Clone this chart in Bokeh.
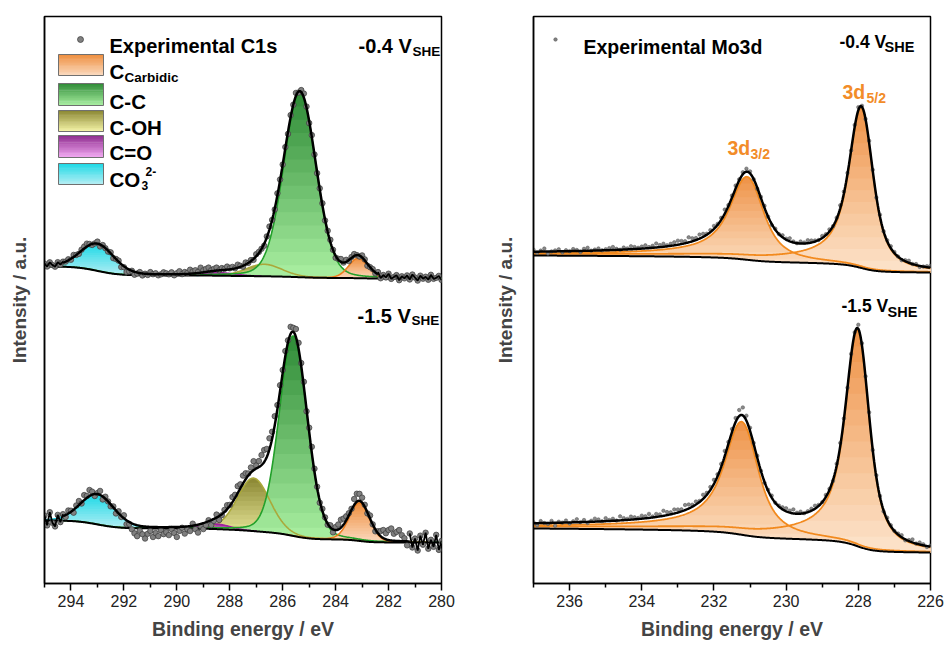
import numpy as np
from bokeh.plotting import figure
from bokeh.layouts import row
from bokeh.models import Range1d, FixedTicker, Label
from bokeh.embed import file_html
from bokeh.resources import INLINE

FONT = "Liberation Sans"

# ---------------------------------------------------------------- data
# measured energy grids (eV), high binding energy first
c1s_energy = np.linspace(295.0, 280.0, 151)
mo_energy = np.linspace(237.0, 226.0, 111)

# C1s fit components: carbidic, C-C, C-OH, C=O, CO3(2-)
c1s_labels = ["C Carbidic", "C-C", "C-OH", "C=O", "CO3 2-"]
c1s_pos_04 = [283.15, 285.35, 286.7, 288.4, 293.0]
c1s_height_04 = [20, 184, 12, 3, 27]
c1s_fwhm_04 = [0.85, 1.45, 1.6, 1.4, 1.5]
c1s_bgstep_04 = [0.5, 1.5, 0.5, 0.5, 9.0]
c1s_bgright_04 = 305.0
c1s_fitrange_04 = (282.4, 294.3)

c1s_pos_15 = [283.1, 285.6, 287.1, 288.5, 293.0]
c1s_height_15 = [38, 200, 53, 5, 30]
c1s_fwhm_15 = [0.9, 1.25, 1.45, 1.2, 1.5]
c1s_bgstep_15 = [3.0, 7.0, 3.0, 1.0, 8.0]
c1s_bgright_15 = 41.0
c1s_fitrange_15 = (281.2, 294.3)

# deviation of the measured C1s counts from the fit envelope
c1s_resid_04 = [
    2, -1, 3, 0, -2, 2, -1, 1, 0, 1,
    -1, 2, 0, -1, 1, 2, 3, 1, -1, 0,
    2, -2, 1, 0, -1, 1, -2, 0, 1, -3,
    -1, -4, -2, 0, -3, -1, 1, -2, 0, -1,
    2, 0, 1, -1, 0, 2, 1, 0, 2, -1,
    1, 3, 0, 2, 1, 4, 2, 3, 1, 5,
    2, 3, 4, 1, 2, 3, 0, 2, 1, 3,
    1, 2, 0, 3, 1, -1, 2, 0, 1, -1,
    2, 1, 0, -2, 1, 3, 0, -1, 2, 1,
    0, 1, -2, 2, 0, 3, -1, 2, 4, 1,
    -2, 2, 0, -1, 1, 2, -1, 1, 2, 0,
    -2, 1, 3, 0, 2, -1, 1, 2, 0, -1,
    2, 1, -2, 0, 1, -1, 2, -3, 1, -1,
    3, -2, 0, 2, -3, 1, -1, 2, -2, 3,
    0, -3, 2, -1, 1, -2, 3, -1, 0, 2,
    -2,
]
c1s_resid_15 = [
    4, -6, 7, -4, -8, 3, -5, 2, -2, 3,
    1, -3, 2, 4, -1, 5, 2, 6, 3, -2,
    1, 4, -3, 2, 0, -2, 1, -3, 2, -1,
    3, -4, -2, -6, -9, -11, -5, -8, -12, -7,
    -4, -10, -6, -9, -3, -7, -5, -8, -2, -6,
    -10, -4, -1, -7, -3, -5, 2, -4, -8, -2,
    -6, -3, 1, -5, -2, 3, -4, -1, 2, 4,
    1, 5, 3, 7, 4, 8, 6, 2, 5, 9,
    3, 6, 10, 12, 8, 11, 7, 9, 4, 6,
    3, 5, 2, 7, 4, 8, 6, 3, 5, -2,
    4, 6, 3, 1, -2, 2, 1, -1, 2, -3,
    3, 5, 8, 6, 4, 2, 1, 6, 8, 7,
    5, 2, -1, 3, 0, -2, 2, 5, 8, 6,
    10, 12, 7, 9, 11, 6, 3, -4, 8, -6,
    3, -9, 6, -3, 9, -7, 2, -5, 7, -8,
    1,
]

# Mo3d doublet: 3d5/2, 3d3/2
mo_pos_04 = [227.9, 231.05]
mo_height_04 = [160, 83]
mo_bgstep_04 = [11.0, 6.0]
mo_bgright_04 = 311.0

mo_pos_15 = [228.0, 231.2]
mo_height_15 = [216, 113]
mo_bgstep_15 = [15.0, 9.0]
mo_bgright_15 = 31.0

mo_resid_04 = [
    2, -1, 1, 3, -2, 0, 1, 2, -1, 1,
    0, 2, 1, -1, 2, 3, 0, 1, 2, 0,
    1, 2, 3, 1, 0, 2, 1, 3, 2, 1,
    2, 3, 1, 2, 4, 2, 3, 1, 2, 3,
    4, 3, 2, 5, 3, 2, 4, 3, 1, 2,
    3, 1, 2, 4, 1, 2, 3, 1, 2, 3,
    2, 0, -1, 1, 2, 0, -1, 1, 0, 2,
    1, 3, 1, 0, 2, 1, 3, 2, 1, 0,
    2, 1, 2, 0, 1, 3, 2, 1, 0, 2,
    3, 1, 0, 2, 1, -1, 2, 0, 1, 2,
    1, 0, -1, 1, 2, 0, 1, -1, 0, 1,
    2,
]
mo_resid_15 = [
    1, -2, 2, 0, -1, 2, -3, 1, 0, 2,
    -1, 1, 3, 0, 2, -1, 1, 3, 2, 0,
    3, 1, 2, 0, 4, 2, 1, 3, 2, 1,
    3, 2, 4, 1, 3, 2, 5, 3, 2, 4,
    3, 2, 5, 4, 2, 3, 1, 4, 2, 3,
    4, 2, 3, 5, 2, 3, 4, 6, 8, 5,
    3, 1, 2, 0, -1, 1, 2, 0, 1, 2,
    3, 2, 4, 1, 2, 0, 1, 2, 3, 1,
    0, 2, 1, -1, 2, 3, 1, 0, 2, 1,
    4, 2, 1, 3, 0, 2, 1, -1, 2, 1,
    0, 1, 2, -1, 1, 3, 0, 2, 1, -1,
    1,
]

# ---------------------------------------------------------------- styles
C1S_STYLE = [  # (top colour, bottom colour, outline)
    ("#EE8E3E", "#FBDABF", "#EE7E20"),
    ("#2E8A36", "#AAF0A2", "#22A02A"),
    ("#8A8632", "#F5F5A8", "#AAA83A"),
    ("#8E2C8E", "#F2A8F2", "#A020A0"),
    ("#1CD9E6", "#B6EEF4", "#28C8D8"),
]
MO_STYLE = ("#EE9246", "#FDE4CC", "#F28A1E")
ORANGE = "#F28C28"

# line-shape parameters of the Mo3d doublet: (lorentz half width, asymmetry, gauss sigma)
MO_SHAPES = [(0.26, 0.06, 0.18), (0.40, 0.07, 0.22)]


# ---------------------------------------------------------------- line shapes
def pseudo_voigt(E, center, fwhm, eta=0.15):
    u = 2.0 * (E - center) / fwhm
    return eta / (1.0 + u ** 2) + (1.0 - eta) * np.exp(-np.log(2.0) * u ** 2)


def doniach_sunjic(E, center, gamma, asym, sigma):
    dE = 0.01
    Ep = np.arange(E.min() - 3.0, E.max() + 3.0 + dE / 2, dE)
    e = (center - Ep) / gamma
    f = np.cos(np.pi * asym / 2 + (1 - asym) * np.arctan(e)) / (1 + e ** 2) ** ((1 - asym) / 2)
    n = int(round(4 * sigma / dE))
    k = np.arange(-n, n + 1) * dE
    kern = np.exp(-k ** 2 / (2 * sigma ** 2))
    f = np.convolve(f, kern / kern.sum(), mode="same")
    return np.interp(E, Ep, f / f.max())


def stepped_background(E, comps, steps, right_level):
    """Shirley-type background: rises towards high BE with the integrated peak area."""
    bg = np.full_like(E, float(right_level))
    for c, s in zip(comps, steps):
        cum = np.concatenate([[0.0], np.cumsum(0.5 * (c[1:] + c[:-1]) * np.diff(E))])
        bg += s * cum / cum[-1]
    return bg


# ---------------------------------------------------------------- helpers
def hex_rgb(h):
    return np.array([int(h[i:i + 2], 16) for i in (1, 3, 5)], dtype=float)


def mix(c_bottom, c_top, t):
    c = hex_rgb(c_bottom) * (1 - t) + hex_rgb(c_top) * t
    return "#%02x%02x%02x" % tuple(int(round(v)) for v in c)


def gradient_area(p, E, base, comp, c_top, c_bottom, n=14):
    idx = np.where(comp > 0.15)[0]
    sl = slice(max(idx[0] - 1, 0), idx[-1] + 2)
    x, b = E[sl], base[sl]
    t = b + comp[sl]
    levels = np.linspace(b.min(), t.max(), n + 1)
    for i in range(n, 0, -1):
        col = mix(c_bottom, c_top, (i - 0.5) / n)
        p.varea(x=x, y1=b, y2=np.maximum(np.minimum(t, levels[i]), b), fill_color=col)
    return x, t


def gradient_patch(p, x0, x1, y_top, y_bot, c_top, c_bottom, edge, n=12):
    lv = np.linspace(y_bot, y_top, n + 1)
    cols = [mix(c_bottom, c_top, (i + 0.5) / n) for i in range(n)]
    p.quad(left=[x0] * n, right=[x1] * n, bottom=lv[:-1], top=lv[1:] + 0.4,
           fill_color=cols, line_color=None)
    p.quad(left=[x0], right=[x1], bottom=[y_bot], top=[y_top],
           fill_color=None, line_color=edge, line_width=1)


def add_text(p, x, y, text, size, color="black", bold=True):
    p.add_layout(Label(x=x, y=y, text=text, text_font=FONT,
                       text_font_size=f"{size}px",
                       text_font_style="bold" if bold else "normal",
                       text_color=color, text_baseline="alphabetic",
                       text_align="left"))


def make_figure(x_start, x_end, width, left, right, ticks, minor):
    p = figure(width=width, height=646, output_backend="svg", toolbar_location=None,
               x_range=Range1d(x_start, x_end), y_range=Range1d(0, 567),
               min_border_left=left, min_border_right=right,
               min_border_top=16, min_border_bottom=63)
    p.grid.visible = False
    p.background_fill_color = "white"
    p.border_fill_color = "white"
    p.outline_line_color = "black"
    p.outline_line_width = 1.5
    p.outline_line_alpha = 1.0

    ax = p.xaxis[0]
    ax.ticker = FixedTicker(ticks=ticks, minor_ticks=minor)
    ax.axis_line_width = 1.5
    ax.major_tick_line_width = 1.5
    ax.minor_tick_line_width = 1.5
    ax.major_tick_in = 0
    ax.major_tick_out = 7
    ax.minor_tick_in = 0
    ax.minor_tick_out = 4
    ax.major_label_text_font = FONT
    ax.major_label_text_font_size = "16px"
    ax.major_label_text_color = "#222222"
    ax.major_label_standoff = 4
    ax.axis_label = "Binding energy / eV"
    ax.axis_label_text_font = FONT
    ax.axis_label_text_font_size = "19.5px"
    ax.axis_label_text_font_style = "bold"
    ax.axis_label_standoff = 8

    ay = p.yaxis[0]
    ay.ticker = FixedTicker(ticks=[])
    ay.major_tick_out = 0
    ay.minor_tick_out = 0
    ay.major_label_standoff = 0
    ay.axis_line_width = 1.5
    ay.axis_label = "Intensity / a.u."
    ay.axis_label_text_font = FONT
    ay.axis_label_text_font_size = "19px"
    ay.axis_label_text_font_style = "bold"
    return p


def yy(py):
    return 583 - py


def lx(px):
    return 295 - (px - 44) * 15 / 397


def rx(px):
    return 237 - (px - 533) * 11 / 397


# ---------------------------------------------------------------- C1s panel
E_c = np.linspace(280.0, 295.0, 601)


def draw_c1s(p, pos, height, fwhm, steps, right_level, fitrange, resid):
    comps = [h * pseudo_voigt(E_c, c, w) for c, h, w in zip(pos, height, fwhm)]
    bg = stepped_background(E_c, comps, steps, right_level)
    env = bg + np.sum(comps, axis=0)
    outlines = []
    for k in [2, 3, 4, 1, 0]:
        top, bot, edge = C1S_STYLE[k]
        x, t = gradient_area(p, E_c, bg, comps[k], top, bot)
        outlines.append((x, t, edge))
    for x, t, edge in outlines:
        p.line(x, t, line_color=edge, line_width=1.6)
    p.line(E_c, bg, line_color="black", line_width=2)
    y_exp = np.interp(c1s_energy, E_c, env) + np.array(resid, dtype=float)
    p.scatter(c1s_energy, y_exp, size=5.5, fill_color="#808080",
              line_color="#3a3a3a", line_width=0.7)
    lo, hi = fitrange
    inside = (E_c >= lo) & (E_c <= hi)
    p.line(E_c[inside], env[inside], line_color="black", line_width=2.5)
    for m in [c1s_energy >= hi - 0.05, c1s_energy <= lo + 0.05]:
        p.line(c1s_energy[m], y_exp[m], line_color="black", line_width=1.8)


p1 = make_figure(295, 280, 470, 44, 29,
                 [294, 292, 290, 288, 286, 284, 282, 280],
                 [295, 293, 291, 289, 287, 285, 283, 281])
p1.yaxis[0].axis_label_standoff = 15

draw_c1s(p1, c1s_pos_04, c1s_height_04, c1s_fwhm_04, c1s_bgstep_04,
         c1s_bgright_04, c1s_fitrange_04, c1s_resid_04)
draw_c1s(p1, c1s_pos_15, c1s_height_15, c1s_fwhm_15, c1s_bgstep_15,
         c1s_bgright_15, c1s_fitrange_15, c1s_resid_15)

# legend
p1.scatter([lx(80)], [yy(39)], size=6, fill_color="#808080", line_color="#3a3a3a",
           line_width=0.7)
add_text(p1, lx(109), yy(45), "Experimental C1s", 20)
patch_rows = [(54, 75), (83, 105), (110, 131), (135, 157), (163, 184)]
for (ptop, pbot), (top, bot, edge) in zip(patch_rows, C1S_STYLE):
    gradient_patch(p1, lx(58), lx(103), yy(ptop), yy(pbot), top, bot, "#707070")
add_text(p1, lx(109), yy(71), "C", 20.5)
add_text(p1, lx(124), yy(77), "Carbidic", 13.5)
add_text(p1, lx(109), yy(101), "C-C", 20.5)
add_text(p1, lx(109), yy(127), "C-OH", 20.5)
add_text(p1, lx(109), yy(152), "C=O", 20.5)
add_text(p1, lx(109), yy(179), "CO", 20.5)
add_text(p1, lx(141), yy(185), "3", 12)
add_text(p1, lx(145), yy(171), "2-", 12)

add_text(p1, lx(358), yy(45), "-0.4 V", 20)
add_text(p1, lx(412), yy(51), "SHE", 13.5)
add_text(p1, lx(357), yy(315), "-1.5 V", 20)
add_text(p1, lx(411), yy(320), "SHE", 13.5)

# ---------------------------------------------------------------- Mo3d panel
E_m = np.linspace(226.0, 237.0, 551)


def draw_mo(p, pos, height, steps, right_level, resid):
    comps = [h * doniach_sunjic(E_m, c, *s) for c, h, s in zip(pos, height, MO_SHAPES)]
    bg = stepped_background(E_m, comps, steps, right_level)
    env = bg + np.sum(comps, axis=0)
    top, bot, edge = MO_STYLE
    outlines = [gradient_area(p, E_m, bg, comps[k], top, bot) for k in (0, 1)]
    for x, t in outlines:
        p.line(x, t, line_color=edge, line_width=1.8)
    p.line(E_m, bg, line_color="black", line_width=2)
    y_exp = np.interp(mo_energy, E_m, env) + np.array(resid, dtype=float)
    p.scatter(mo_energy, y_exp, size=3.5, fill_color="#8a8a8a",
              line_color="#505050", line_width=0.5)
    p.line(E_m, env, line_color="black", line_width=2.5)


p2 = make_figure(237, 226, 476, 63, 16,
                 [236, 234, 232, 230, 228, 226],
                 [237, 235, 233, 231, 229, 227])
p2.yaxis[0].axis_label_standoff = 18

draw_mo(p2, mo_pos_04, mo_height_04, mo_bgstep_04, mo_bgright_04, mo_resid_04)
draw_mo(p2, mo_pos_15, mo_height_15, mo_bgstep_15, mo_bgright_15, mo_resid_15)

p2.scatter([rx(555)], [yy(39)], size=3.5, fill_color="#808080", line_color="#505050",
           line_width=0.5)
add_text(p2, rx(583), yy(46), "Experimental Mo3d", 19.5)
add_text(p2, rx(839), yy(41), "-0.4 V", 17.5)
add_text(p2, rx(884), yy(46), "SHE", 14.5)
add_text(p2, rx(841), yy(305), "-1.5 V", 17.5)
add_text(p2, rx(887), yy(311), "SHE", 14.5)

add_text(p2, rx(727), yy(147), "3d", 19.5, color=ORANGE)
add_text(p2, rx(750), yy(153), "3/2", 14, color=ORANGE)
add_text(p2, rx(842), yy(91), "3d", 19.5, color=ORANGE)
add_text(p2, rx(866), yy(97), "5/2", 14, color=ORANGE)

layout = row(p1, p2, spacing=0)
open("out.html", "w").write(file_html(layout, INLINE))
